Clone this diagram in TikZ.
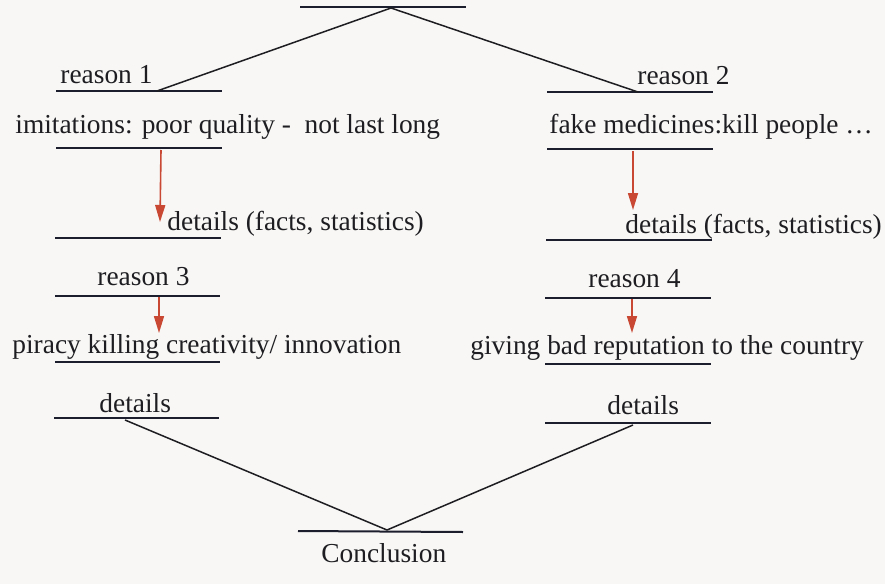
\documentclass[tikz,border=0pt]{standalone}
\usepackage{fontspec}
\setmainfont{Liberation Serif}
\usetikzlibrary{arrows.meta}
\definecolor{paper}{RGB}{248,247,245}
\definecolor{ink}{RGB}{30,30,34}
\definecolor{lineink}{RGB}{28,30,45}
\definecolor{arrred}{RGB}{200,72,52}
\begin{document}
\begin{tikzpicture}[x=0.5pt,y=-0.5pt,
  txt/.style={anchor=base west,inner sep=0pt,font=\fontsize{13.7}{16}\selectfont,text=ink},
  uline/.style={line width=1pt,draw=lineink},
  conn/.style={line width=0.75pt,draw=ink},
  redarrow/.style={line width=0.8pt,draw=arrred,-{Triangle[length=8.5pt,width=5pt,fill=arrred]}}]
\useasboundingbox (0,0) rectangle (885,584);
\fill[paper] (0,0) rectangle (885,584);

% underlines (start/end coordinates)
\coordinate (topA) at (300,7);   \coordinate (topB) at (466,7);
\coordinate (r1A) at (56,91);    \coordinate (r1B) at (222,91);
\coordinate (r2A) at (547,92);   \coordinate (r2B) at (713,92);
\coordinate (i1A) at (56,148);   \coordinate (i1B) at (222,148);
\coordinate (i2A) at (547,149);  \coordinate (i2B) at (713,149);
\coordinate (d1A) at (55,238);   \coordinate (d1B) at (221,238);
\coordinate (d2A) at (546,240);  \coordinate (d2B) at (712,240);
\coordinate (r3A) at (55,296);   \coordinate (r3B) at (220,296);
\coordinate (r4A) at (545,298);  \coordinate (r4B) at (711,298);
\coordinate (p3A) at (55,362);   \coordinate (p3B) at (220,362);
\coordinate (p4A) at (545,364);  \coordinate (p4B) at (711,364);
\coordinate (e3A) at (54,418);   \coordinate (e3B) at (219,418);
\coordinate (e4A) at (545,423);  \coordinate (e4B) at (711,423);
\coordinate (cA) at (298,531);   \coordinate (cB) at (463,532);

\foreach \a/\b in {topA/topB,r1A/r1B,r2A/r2B,i1A/i1B,i2A/i2B,d1A/d1B,d2A/d2B,
  r3A/r3B,r4A/r4B,p3A/p3B,p4A/p4B,e3A/e3B,e4A/e4B,cA/cB}
  \draw[uline] (\a) -- (\b);

% connector end points on the lines
\coordinate (top) at (391,8);
\coordinate (r1) at (157,91);
\coordinate (r2) at (638,92);
\coordinate (e3) at (125,420);
\coordinate (e4) at (633,425);
\coordinate (conc) at (387,530);

% texts
\node[txt] (treason1) at (60,83) {reason 1};
\node[txt] (treason2) at (637,84) {reason 2};
\node[txt] (timit) at (15,133) {imitations: poor quality -\ \ not last long};
\node[txt] (tfake) at (549,133) {fake medicines:kill people …};
\node[txt] (tdet1) at (167,230) {details (facts, statistics)};
\node[txt] (tdet2) at (625,233) {details (facts, statistics)};
\node[txt] (treason3) at (97,285) {reason 3};
\node[txt] (treason4) at (588,287) {reason 4};
\node[txt] (tpiracy) at (12,353) {piracy killing creativity/ innovation};
\node[txt] (tgiving) at (470,354) {giving bad reputation to the country};
\node[txt] (tdetA) at (99,412) {details};
\node[txt] (tdetB) at (607,414) {details};
\node[txt] (tconc) at (321,562) {Conclusion};

% black connectors
\draw[conn] (top) -- (r1);
\draw[conn] (top) -- (r2);
\draw[conn] (e3) -- (conc);
\draw[conn] (e4) -- (conc);

% red arrows
\coordinate (a1s) at (161,150); \coordinate (a1e) at (160,222);
\coordinate (a2s) at (633,151); \coordinate (a2e) at (633,210);
\coordinate (a3s) at (159,297); \coordinate (a3e) at (159,333);
\coordinate (a4s) at (632,299); \coordinate (a4e) at (632,333);
\draw[redarrow] (a1s) -- (a1e);
\draw[redarrow] (a2s) -- (a2e);
\draw[redarrow] (a3s) -- (a3e);
\draw[redarrow] (a4s) -- (a4e);
\end{tikzpicture}
\end{document}
